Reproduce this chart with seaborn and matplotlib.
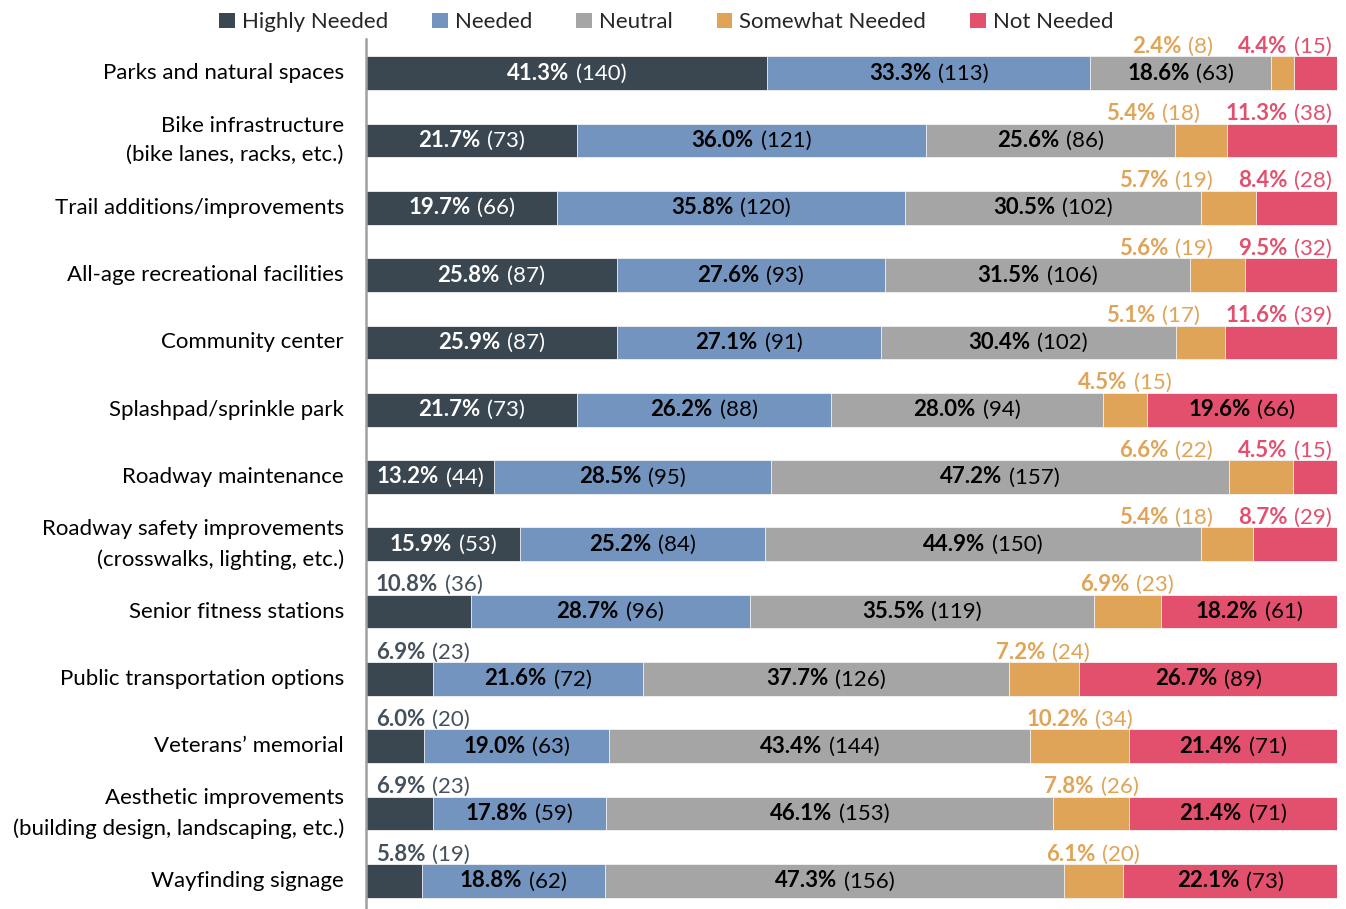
import numpy as np
import pandas as pd
import matplotlib
matplotlib.use("Agg")
import matplotlib.pyplot as plt
import seaborn as sb
from matplotlib.patches import Patch
from matplotlib.offsetbox import TextArea, HPacker, AnnotationBbox

# categories (top to bottom)
items = ["Parks and natural spaces",
         "Bike infrastructure\n(bike lanes, racks, etc.)",
         "Trail additions/improvements",
         "All-age recreational facilities",
         "Community center",
         "Splashpad/sprinkle park",
         "Roadway maintenance",
         "Roadway safety improvements\n(crosswalks, lighting, etc.)",
         "Senior fitness stations",
         "Public transportation options",
         "Veterans\u2019 memorial",
         "Aesthetic improvements\n(building design, landscaping, etc.)",
         "Wayfinding signage"]

# percentages per response
highly_pct = [41.3, 21.7, 19.7, 25.8, 25.9, 21.7, 13.2, 15.9, 10.8, 6.9, 6.0, 6.9, 5.8]
needed_pct = [33.3, 36.0, 35.8, 27.6, 27.1, 26.2, 28.5, 25.2, 28.7, 21.6, 19.0, 17.8, 18.8]
neutral_pct = [18.6, 25.6, 30.5, 31.5, 30.4, 28.0, 47.2, 44.9, 35.5, 37.7, 43.4, 46.1, 47.3]
somewhat_pct = [2.4, 5.4, 5.7, 5.6, 5.1, 4.5, 6.6, 5.4, 6.9, 7.2, 10.2, 7.8, 6.1]
not_pct = [4.4, 11.3, 8.4, 9.5, 11.6, 19.6, 4.5, 8.7, 18.2, 26.7, 21.4, 21.4, 22.1]

# response counts
highly_n = [140, 73, 66, 87, 87, 73, 44, 53, 36, 23, 20, 23, 19]
needed_n = [113, 121, 120, 93, 91, 88, 95, 84, 96, 72, 63, 59, 62]
neutral_n = [63, 86, 102, 106, 102, 94, 157, 150, 119, 126, 144, 153, 156]
somewhat_n = [8, 18, 19, 19, 17, 15, 22, 18, 23, 24, 34, 26, 20]
not_n = [15, 38, 28, 32, 39, 66, 15, 29, 61, 89, 71, 71, 73]

responses = ["Highly Needed", "Needed", "Neutral", "Somewhat Needed", "Not Needed"]
colors = ["#3a4650", "#7294bf", "#a5a5a5", "#e0a458", "#e2506e"]
hn_outside = "#44515d"

df = pd.DataFrame({"item": items,
                   "Highly Needed": highly_pct,
                   "Needed": needed_pct,
                   "Neutral": neutral_pct,
                   "Somewhat Needed": somewhat_pct,
                   "Not Needed": not_pct})
counts = pd.DataFrame({"Highly Needed": highly_n, "Needed": needed_n,
                       "Neutral": neutral_n, "Somewhat Needed": somewhat_n,
                       "Not Needed": not_n})

# cumulative sums for stacking
cum = df[responses].cumsum(axis=1)
for r in responses:
    df["cum_" + r] = cum[r]

sb.set_theme(style="white")
plt.rcParams["font.family"] = ["Lato", "DejaVu Sans"]
FS = 16

fig = plt.figure(figsize=(13.46, 9.09), dpi=100)
ax = fig.add_axes([366 / 1346, 1 - 914.6 / 909, (1337 - 366) / 1346, (914.6 - 39.4) / 909])

# draw largest cumulative first so shorter ones sit on top
for r, c in reversed(list(zip(responses, colors))):
    sb.barplot(data=df, x="cum_" + r, y="item", color=c, width=0.5, orient="h",
               errorbar=None, saturation=1, edgecolor="#f4f4f4", linewidth=0.6, ax=ax)

ax.set_xlim(0, 100)
ax.set_ylim(len(items) - 0.5, -0.5)
ax.set_xlabel("")
ax.set_ylabel("")
ax.set_xticks([])
for s in ["top", "right", "bottom"]:
    ax.spines[s].set_visible(False)
ax.spines["left"].set_color("#a0a0a0")
ax.spines["left"].set_linewidth(1.8)
ax.set_yticks(np.arange(len(items)))
ax.set_yticklabels(items, fontsize=FS, color="black", linespacing=1.6, va="center")
ax.set_yticks(np.arange(-0.5, len(items), 1), minor=True)
ax.tick_params(axis="y", which="major", length=0, pad=16)
ax.tick_params(axis="y", which="minor", length=6, width=1.8, color="#a0a0a0")


def label_box(pct, n, color, gap=5):
    bold = TextArea(f"{pct:.1f}%", textprops=dict(color=color, fontweight="bold", fontsize=FS))
    norm = TextArea(f"({n})", textprops=dict(color=color, fontsize=FS))
    return HPacker(children=[bold, norm], sep=gap, pad=0, align="baseline")


def place(box, x, y, align):
    ab = AnnotationBbox(box, (x, y), xycoords="data", frameon=False, pad=0,
                        box_alignment=align)
    ax.add_artist(ab)


THR = 12
UP = 0.40
for i in range(len(items)):
    left = 0
    for k, r in enumerate(responses):
        p = df[r][i]
        n = counts[r][i]
        mid = left + p / 2
        if k == 3:
            pass
        elif p >= THR:
            tc = "white" if k == 0 else "black"
            place(label_box(p, n, tc), mid, i, (0.5, 0.5))
        elif k == 0:
            place(label_box(p, n, hn_outside), 1.0, i - UP, (0.0, 0.5))
        left += p

    # somewhat needed and (small) not needed labels above the bar
    sp = df["Somewhat Needed"][i]
    sn = counts["Somewhat Needed"][i]
    npct = df["Not Needed"][i]
    nn = counts["Not Needed"][i]
    if npct < THR:
        pair = HPacker(children=[label_box(sp, sn, colors[3]),
                                 label_box(npct, nn, colors[4])],
                       sep=18, pad=0, align="baseline")
        place(pair, 99.5, i - UP, (1.0, 0.5))
    else:
        smid = 100 - npct - sp / 2
        place(label_box(sp, sn, colors[3]), smid, i - UP, (0.5, 0.5))

handles = [Patch(facecolor=c, edgecolor="none") for c in colors]
fig.legend(handles, responses, loc="upper center", bbox_to_anchor=(0.495, 1.0),
           ncol=5, frameon=False, fontsize=FS, handlelength=0.7, handleheight=0.7,
           handletextpad=0.3, columnspacing=2.0, borderaxespad=0.15)

fig.savefig("out.png", dpi=100)
